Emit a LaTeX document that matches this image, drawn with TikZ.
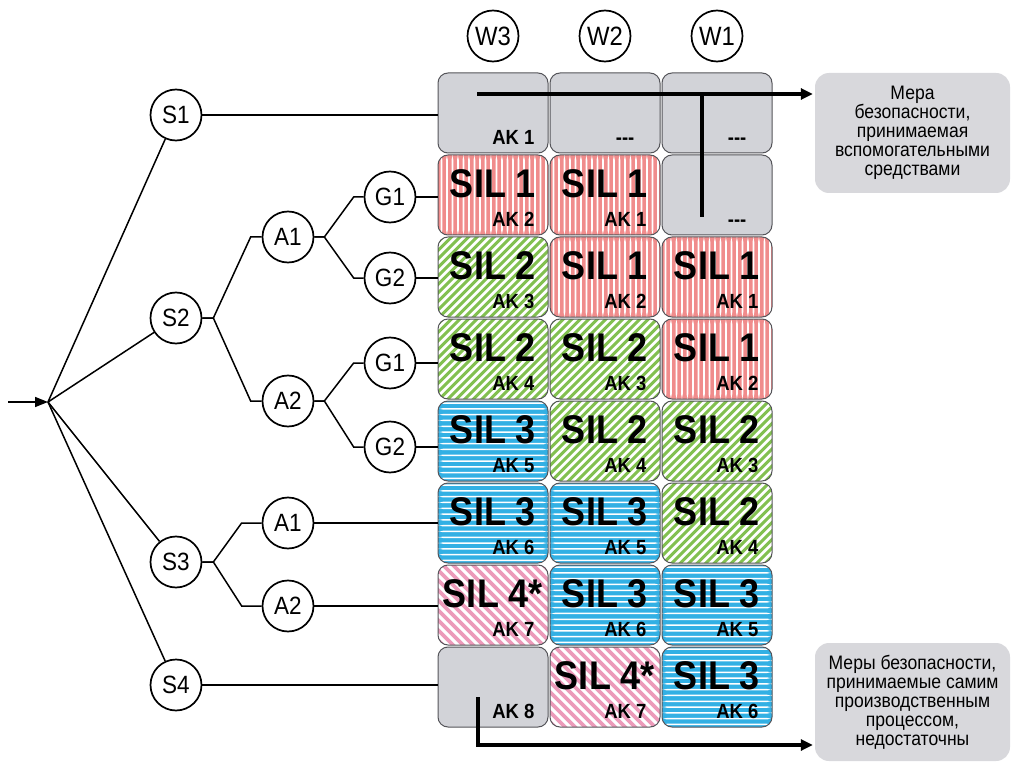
\documentclass[tikz,border=0pt]{standalone}
\usepackage{fontspec}
\setmainfont[FakeStretch=0.9]{Liberation Sans}
\usetikzlibrary{arrows.meta,calc}

\definecolor{silred}{RGB}{240,140,140}
\definecolor{silgreen}{RGB}{130,192,80}
\definecolor{silblue}{RGB}{50,176,228}
\definecolor{silpink}{RGB}{236,155,186}
\definecolor{cellgray}{RGB}{210,211,216}
\definecolor{boxgray}{RGB}{216,216,220}
\definecolor{cellline}{RGB}{85,85,90}

\tikzset{
  cellbase/.style={draw=cellline, line width=1pt, rounded corners=10pt,
    minimum width=110pt, minimum height=80pt, inner sep=0pt},
  graycell/.style={cellbase, fill=cellgray},
  silone/.style={cellbase, fill=silred, path picture={
    \foreach \i in {-58,-52.5,...,60}{
      \fill[white] ([xshift=\i pt,yshift=-45pt]path picture bounding box.center) rectangle ++(1.8pt,90pt);}}},
  siltwo/.style={cellbase, fill=white, path picture={
    \foreach \i in {-150,-141.5,...,150}{
      \draw[silgreen, line width=3pt] ([xshift=\i pt,yshift=-60pt]path picture bounding box.center) -- ++(120pt,120pt);}}},
  silthree/.style={cellbase, fill=silblue, path picture={
    \foreach \i in {-44,-38.2,...,45}{
      \fill[white] ([xshift=-60pt,yshift=\i pt]path picture bounding box.center) rectangle ++(120pt,1.5pt);}}},
  silfour/.style={cellbase, fill=white, path picture={
    \foreach \i in {-150,-140,...,150}{
      \draw[silpink, line width=3.6pt] ([xshift=\i pt,yshift=60pt]path picture bounding box.center) -- ++(120pt,-120pt);}}},
  bigtxt/.style={inner sep=0pt, font=\fontsize{40}{40}\selectfont\bfseries},
  smalltxt/.style={inner sep=0pt, font=\fontsize{20.5}{20.5}\selectfont\bfseries},
  choice/.style={circle, draw, line width=1.7pt, minimum size=51pt, inner sep=0pt,
    font=\fontsize{25}{25}\selectfont},
  headchoice/.style={choice, font=\fontsize{26.5}{26.5}\selectfont},
  note/.style={fill=boxgray, rounded corners=14pt, minimum width=195pt, inner sep=0pt,
    align=center, font=\fontsize{19.5}{19}\selectfont},
  branch/.style={line width=1.5pt},
  measure/.style={line width=3.4pt},
  tip/.style={-{Triangle[length=12pt,width=11pt]}},
}

% one risk-graph cell: name, x, y, style, SIL text, AK text
\newcommand{\silcell}[6]{%
  \node[#4] (#1) at (#2,#3) {};
  \node[bigtxt, anchor=base] (#1s) at ($(#1.north)+(0,-43pt)$) {#5};
  \node[smalltxt, anchor=base east] (#1k) at ($(#1.south east)+(-14pt,9pt)$) {#6};
}
% empty grey cell with a small label at its lower right
\newcommand{\emptycell}[5]{%
  \node[graycell] (#1) at (#2,#3) {};
  \node[smalltxt, anchor=base east] (#1k) at ($(#1.south east)+(-#5pt,9pt)$) {#4};
}

\begin{document}
\begin{tikzpicture}[x=1pt,y=-1pt]
\useasboundingbox (0,0) rectangle (1013,765);

% column heads
\node[headchoice] (W3) at (493,36) {W3};
\node[headchoice] (W2) at (605,36) {W2};
\node[headchoice] (W1) at (717,36) {W1};

% row 1
\emptycell{c11}{493}{113}{AK 1}{14}
\emptycell{c12}{605}{113}{{-}{-}{-}}{26}
\emptycell{c13}{717}{113}{{-}{-}{-}}{26}
% row 2
\silcell{c21}{493}{195}{silone}{SIL 1}{AK 2}
\silcell{c22}{605}{195}{silone}{SIL 1}{AK 1}
\emptycell{c23}{717}{195}{{-}{-}{-}}{26}
% row 3
\silcell{c31}{493}{277}{siltwo}{SIL 2}{AK 3}
\silcell{c32}{605}{277}{silone}{SIL 1}{AK 2}
\silcell{c33}{717}{277}{silone}{SIL 1}{AK 1}
% row 4
\silcell{c41}{493}{359}{siltwo}{SIL 2}{AK 4}
\silcell{c42}{605}{359}{siltwo}{SIL 2}{AK 3}
\silcell{c43}{717}{359}{silone}{SIL 1}{AK 2}
% row 5
\silcell{c51}{493}{441}{silthree}{SIL 3}{AK 5}
\silcell{c52}{605}{441}{siltwo}{SIL 2}{AK 4}
\silcell{c53}{717}{441}{siltwo}{SIL 2}{AK 3}
% row 6
\silcell{c61}{493}{523}{silthree}{SIL 3}{AK 6}
\silcell{c62}{605}{523}{silthree}{SIL 3}{AK 5}
\silcell{c63}{717}{523}{siltwo}{SIL 2}{AK 4}
% row 7
\silcell{c71}{493}{605}{silfour}{SIL 4*}{AK 7}
\silcell{c72}{605}{605}{silthree}{SIL 3}{AK 6}
\silcell{c73}{717}{605}{silthree}{SIL 3}{AK 5}
% row 8
\emptycell{c81}{493}{687}{AK 8}{14}
\silcell{c82}{605}{687}{silfour}{SIL 4*}{AK 7}
\silcell{c83}{717}{687}{silthree}{SIL 3}{AK 6}

% decision tree
\coordinate (in) at (8,402);
\coordinate (fan) at (48,402);
\node[choice] (S1) at (176,115) {S1};
\node[choice] (S2) at (176,318) {S2};
\node[choice] (S3) at (176,562) {S3};
\node[choice] (S4) at (176,685) {S4};
\node[choice] (A1a) at (288,237) {A1};
\node[choice] (A2a) at (288,401) {A2};
\node[choice] (A1b) at (288,523) {A1};
\node[choice] (A2b) at (288,606) {A2};
\node[choice] (G1a) at (390,197) {G1};
\node[choice] (G2a) at (390,278) {G2};
\node[choice] (G1b) at (390,363) {G1};
\node[choice] (G2b) at (390,447) {G2};

\draw[branch, -{Triangle[length=13pt,width=10pt]}] (in) -- (fan);
\foreach \s in {S1,S2,S3,S4} \draw[branch] (fan) -- (\s);

\draw[branch] (S2.east) -- ++(11,0) -- ($(A1a.west)+(-11pt,0)$) -- (A1a.west);
\draw[branch] (S2.east) -- ++(11,0) -- ($(A2a.west)+(-11pt,0)$) -- (A2a.west);
\draw[branch] (S3.east) -- ++(11,0) -- ($(A1b.west)+(-20pt,0)$) -- (A1b.west);
\draw[branch] (S3.east) -- ++(11,0) -- ($(A2b.west)+(-20pt,0)$) -- (A2b.west);
\draw[branch] (A1a.east) -- ++(10,0) -- ($(G1a.west)+(-10pt,0)$) -- (G1a.west);
\draw[branch] (A1a.east) -- ++(10,0) -- ($(G2a.west)+(-10pt,0)$) -- (G2a.west);
\draw[branch] (A2a.east) -- ++(10,0) -- ($(G1b.west)+(-10pt,0)$) -- (G1b.west);
\draw[branch] (A2a.east) -- ++(10,0) -- ($(G2b.west)+(-10pt,0)$) -- (G2b.west);

\draw[branch] (S1.east) -- (S1.east -| c11.west);
\draw[branch] (G1a.east) -- (G1a.east -| c21.west);
\draw[branch] (G2a.east) -- (G2a.east -| c31.west);
\draw[branch] (G1b.east) -- (G1b.east -| c41.west);
\draw[branch] (G2b.east) -- (G2b.east -| c51.west);
\draw[branch] (A1b.east) -- (A1b.east -| c61.west);
\draw[branch] (A2b.east) -- (A2b.east -| c71.west);
\draw[branch] (S4.east) -- (S4.east -| c81.west);

% notes on the right
\node[note, minimum height=120pt] (top) at (912.5,133)
  {Мера\\безопасности,\\принимаемая\\вспомогательными\\средствами};
\node[note, minimum height=118pt] (bottom) at (912.5,702)
  {Меры безопасности,\\принимаемые самим\\производственным\\процессом,\\недостаточны};

% measure arrows
\coordinate (m1) at (477,94);
\coordinate (m2) at (702,94);
\coordinate (m3) at (702,217);
\coordinate (n1) at (478,697);
\coordinate (n2) at (478,745);
\draw[measure, tip, shorten >=2pt] (m1) -- (m1 -| top.west);
\draw[measure] (m2) -- (m3);
\draw[measure, tip, shorten >=2pt] (n1) -- (n2) -- (n2 -| bottom.west);
\end{tikzpicture}
\end{document}
